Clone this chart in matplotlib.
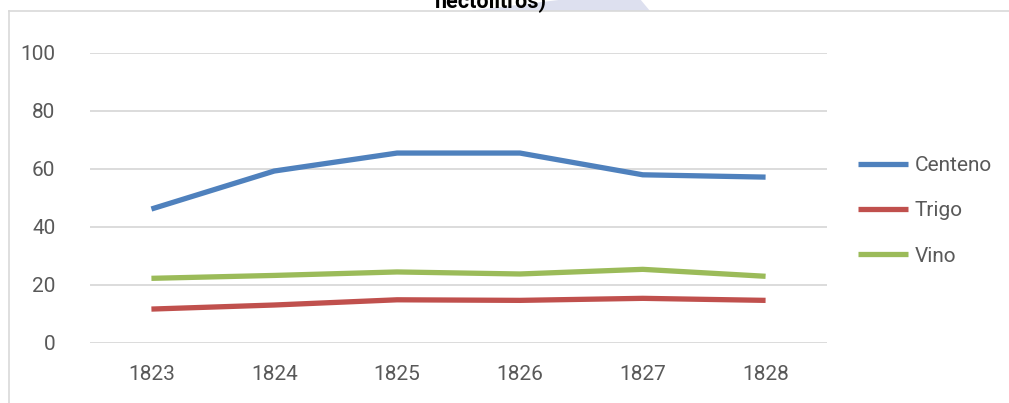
import matplotlib
matplotlib.use("Agg")
import matplotlib.pyplot as plt
from matplotlib.lines import Line2D
from matplotlib.patches import Polygon

years = ["1823", "1824", "1825", "1826", "1827", "1828"]
centeno = [46.2, 59.3, 65.5, 65.5, 58.0, 57.2]
trigo = [11.7, 13.1, 14.9, 14.7, 15.4, 14.7]
vino = [22.3, 23.3, 24.5, 23.8, 25.4, 23.0]
series = [("Centeno", centeno, "#4F81BD"),
          ("Trigo", trigo, "#C0504D"),
          ("Vino", vino, "#9BBB59")]
yticks = [0, 20, 40, 60, 80, 100]
title_tail = "hectolitros)"

W, H = 1009, 403
plt.rcParams['font.family'] = ['Roboto', 'DejaVu Sans']
fig = plt.figure(figsize=(W / 100, H / 100), dpi=100)

def fx(px):
    return px / W

def fy(py):
    return 1 - py / H

# watermark shape at top
wm = Polygon([(fx(567), fy(-1)), (fx(640), fy(-1)), (fx(650), fy(11)), (fx(467), fy(11))],
             closed=True, transform=fig.transFigure, facecolor="#DDE0EF",
             edgecolor="none", zorder=0)
fig.patches.append(wm)

# chart frame (left and top)
fig.lines.append(Line2D([fx(9), fx(9)], [fy(11), fy(H + 5)], transform=fig.transFigure,
                        color="#D9D9D9", linewidth=1.2))
fig.lines.append(Line2D([fx(9), fx(W + 5)], [fy(11), fy(11)], transform=fig.transFigure,
                        color="#D9D9D9", linewidth=1.2))

fig.text(fx(491), fy(8), title_tail, ha="center", va="baseline", fontsize=15.5,
         fontweight="bold", color="#000000", zorder=3)

ax = fig.add_axes([fx(90), fy(343), fx(827) - fx(90), (343 - 53) / H])
x = list(range(len(years)))
for name, vals, col in series:
    ax.plot(x, vals, color=col, linewidth=3.8, label=name, solid_capstyle="butt",
            solid_joinstyle="round", zorder=3)

ax.set_xlim(-0.5, len(years) - 0.5)
ax.set_ylim(0, 100)
ax.set_yticks(yticks)
ax.set_xticks(x)
ax.set_xticklabels(years)
ax.grid(axis="y", color="#D9D9D9", linewidth=1.3)
ax.set_axisbelow(True)
for s in ax.spines.values():
    s.set_visible(False)
ax.tick_params(axis="both", length=0, colors="#595959", labelsize=15)
ax.tick_params(axis="y", pad=25)
ax.tick_params(axis="x", pad=16)
ax.patch.set_alpha(0)

leg = ax.legend(loc="center left",
                bbox_to_anchor=((858 - 90) / (827 - 90), (343 - 211) / 290),
                frameon=False, fontsize=15, handlelength=2.4, handletextpad=0.33,
                labelspacing=1.26, borderaxespad=0, borderpad=0)
for t in leg.get_texts():
    t.set_color("#595959")

fig.savefig("out.png", dpi=100)
